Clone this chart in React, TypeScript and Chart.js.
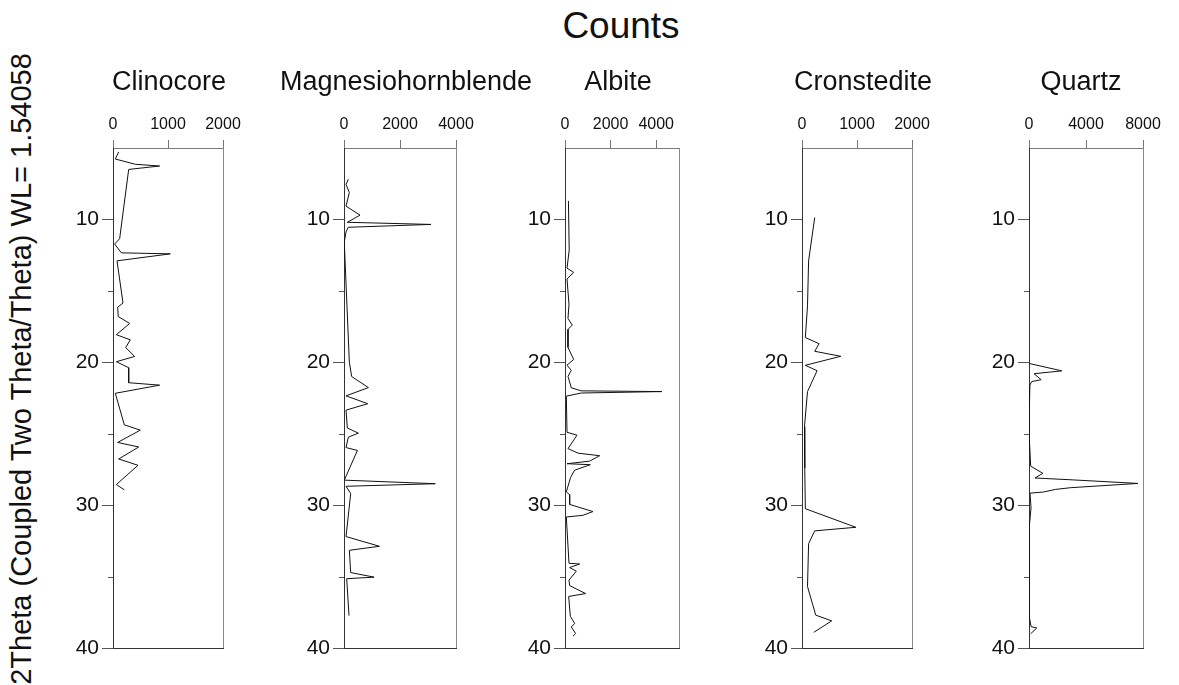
import React, { useEffect, useRef } from 'react';
import { Chart, registerables } from 'chart.js';

Chart.register(...registerables);

const FONT = "'Liberation Sans', Arial, Helvetica, sans-serif";

// ---- data ----
const panelNames = ['Clinocore', 'Magnesiohornblende', 'Albite', 'Cronstedite', 'Quartz'];
const countMax = [2000, 4000, 5000, 2000, 8000];
const countTicks = [
  [0, 1000, 2000],
  [0, 2000, 4000],
  [0, 2000, 4000],
  [0, 1000, 2000],
  [0, 4000, 8000],
];
const thetaTicks = [10, 20, 30, 40];
const thetaMinorTicks = [15, 25, 35];
const thetaMin = 5;
const thetaMax = 40;

const clinocoreTheta = [5.28, 5.77, 6.14, 6.26, 6.5, 11.35, 11.72, 12.34, 12.41, 12.9, 15.85, 16.15, 16.8, 17.28, 18.07, 18.43, 18.97, 19.59, 19.96, 20.38, 21.43, 21.6, 22.17, 24.38, 24.75, 25.61, 25.93, 26.77, 27.21, 28.56, 28.93];
const clinocoreCounts = [103, 42, 406, 848, 285, 121, 30, 152, 1042, 73, 182, 85, 95, 303, 61, 315, 230, 394, 61, 285, 285, 848, 42, 206, 497, 85, 467, 103, 455, 61, 206];

const magnesioTheta = [7.18, 7.56, 8.11, 9.07, 9.7, 10.2, 10.35, 10.55, 10.88, 11.58, 20.0, 21.0, 21.77, 22.35, 22.9, 23.35, 24.6, 24.96, 25.24, 25.97, 26.17, 28.25, 28.5, 28.68, 29.19, 32.2, 32.88, 33.16, 34.72, 35.04, 35.15, 37.73];
const magnesioCounts = [155, 72, 191, 72, 573, 119, 3105, 150, 72, 10, 191, 275, 872, 72, 848, 72, 119, 513, 155, 72, 478, 12, 3260, 72, 239, 72, 1266, 191, 239, 1075, 96, 179];

const albiteTheta = [8.7, 12.15, 13.41, 13.71, 14.17, 15.93, 16.94, 17.4, 17.7, 18.96, 19.8, 20.2, 20.56, 20.98, 21.79, 22.0, 22.05, 22.15, 22.37, 24.9, 25.1, 26.04, 26.36, 26.54, 26.92, 27.1, 27.17, 27.55, 28.05, 29.07, 29.27, 29.95, 30.45, 30.71, 30.83, 34.07, 34.12, 34.37, 34.62, 35.25, 35.63, 36.19, 36.39, 37.78, 38.28, 38.53, 38.99, 39.17];
const albiteCounts = [150, 185, 88, 380, 88, 175, 131, 321, 131, 131, 380, 88, 277, 131, 277, 715, 4248, 715, 58, 88, 526, 131, 569, 1518, 1080, 88, 1109, 423, 248, 58, 204, 204, 1226, 788, 58, 175, 642, 204, 496, 175, 204, 905, 161, 234, 423, 277, 467, 350];

const cronstediteTheta = [9.87, 12.9, 16.05, 18.27, 18.7, 19.23, 19.58, 20.21, 20.59, 22.05, 24.5, 27.4, 30.25, 31.55, 31.8, 32.7, 35.7, 37.7, 38.1, 38.9];
const cronstediteCounts = [231, 120, 100, 61, 310, 231, 705, 61, 274, 100, 45, 50, 61, 980, 231, 120, 100, 250, 540, 215];

const quartzTheta = [20.08, 20.6, 20.8, 21.22, 21.35, 21.6, 23.4, 24.9, 27.27, 27.77, 28.1, 28.23, 28.48, 28.78, 28.9, 29.08, 29.16, 30.2, 31.7, 37.7, 38.5, 38.6, 39.0];
const quartzCounts = [0, 2300, 355, 852, 189, 60, 0, 0, 118, 970, 426, 3030, 7650, 2911, 1846, 1018, 71, 142, 0, 0, 142, 544, 118];

const seriesTheta = [clinocoreTheta, magnesioTheta, albiteTheta, cronstediteTheta, quartzTheta];
const seriesCounts = [clinocoreCounts, magnesioCounts, albiteCounts, cronstediteCounts, quartzCounts];

// ---- layout ----
const plotLeft = [113, 344, 565, 802, 1029];
const plotWidth = [110, 112, 114, 110, 114];
const titleShift = [1, 6, -4, 6, -5];
const canvasTop = 60;
const canvasHeight = 620;
const sideRoom = 90;
const axisTopHeight = 88;
const bottomPad = 32;
const titleY = 23;

const framePlugin = {
  id: 'frame',
  afterDraw(chart: any, _args: any, opts: any) {
    const { ctx, chartArea } = chart;
    const { left, right, top, bottom } = chartArea;
    const y = chart.scales.y;
    ctx.save();
    ctx.lineWidth = 1;
    ctx.strokeStyle = '#8a8a8a';
    ctx.beginPath();
    ctx.moveTo(Math.round(right) + 0.5, top);
    ctx.lineTo(Math.round(right) + 0.5, bottom + 1);
    ctx.stroke();
    ctx.strokeStyle = '#333';
    ctx.beginPath();
    ctx.moveTo(left, Math.round(bottom) + 0.5);
    ctx.lineTo(right + 1, Math.round(bottom) + 0.5);
    ctx.stroke();
    ctx.strokeStyle = '#555';
    for (const v of thetaMinorTicks) {
      const py = Math.round(y.getPixelForValue(v)) + 0.5;
      ctx.beginPath();
      ctx.moveTo(left - 5, py);
      ctx.lineTo(left, py);
      ctx.stroke();
    }
    // panel title
    ctx.fillStyle = '#111';
    ctx.font = `27px ${FONT}`;
    ctx.textAlign = 'center';
    ctx.textBaseline = 'middle';
    ctx.fillText(opts.text, (left + right) / 2 + (opts.shift || 0), titleY);
    ctx.restore();
  },
};

function Panel({ index }: { index: number }) {
  const ref = useRef<HTMLCanvasElement | null>(null);
  const w = plotWidth[index] + sideRoom * 2;
  useEffect(() => {
    if (!ref.current) return;
    const theta = seriesTheta[index];
    const counts = seriesCounts[index];
    const chart = new Chart(ref.current, {
      type: 'scatter',
      data: {
        datasets: [
          {
            data: theta.map((t, i) => ({ x: counts[i], y: t })),
            showLine: true,
            borderColor: '#111',
            borderWidth: 1,
            pointRadius: 0,
            pointHoverRadius: 0,
            fill: false,
            tension: 0,
          } as any,
        ],
      },
      options: {
        responsive: false,
        animation: false,
        events: [],
        layout: { padding: { left: 0, right: sideRoom, top: 0, bottom: bottomPad } },
        plugins: {
          legend: { display: false },
          tooltip: { enabled: false },
          title: { display: false },
          frame: { text: panelNames[index], shift: titleShift[index] },
        },
        scales: {
          x: {
            type: 'linear',
            position: 'top',
            min: 0,
            max: countMax[index],
            afterBuildTicks: (s: any) => {
              s.ticks = countTicks[index].map((v) => ({ value: v }));
            },
            afterFit: (s: any) => {
              s.height = axisTopHeight;
            },
            grid: { drawOnChartArea: false, drawTicks: true, tickLength: 8, tickColor: '#777', tickWidth: 1 },
            border: { display: true, color: '#7a7a7a', width: 1 },
            ticks: {
              font: { family: FONT, size: 16 },
              color: '#111',
              padding: 6,
              maxRotation: 0,
              autoSkip: false,
              callback: (v: any) => String(v),
            },
          },
          y: {
            type: 'linear',
            position: 'left',
            reverse: true,
            min: thetaMin,
            max: thetaMax,
            afterBuildTicks: (s: any) => {
              s.ticks = thetaTicks.map((v) => ({ value: v }));
            },
            afterFit: (s: any) => {
              s.width = sideRoom;
            },
            grid: { drawOnChartArea: false, drawTicks: true, tickLength: 11, tickColor: '#555', tickWidth: 1 },
            border: { display: true, color: '#333', width: 1 },
            ticks: {
              font: { family: FONT, size: 21 },
              color: '#111',
              padding: 3,
              autoSkip: false,
              callback: (v: any) => String(v),
            },
          },
        },
      } as any,
      plugins: [framePlugin],
    });
    return () => chart.destroy();
  }, [index]);
  return (
    <canvas
      ref={ref}
      width={w}
      height={canvasHeight}
      style={{
        position: 'absolute',
        left: plotLeft[index] - sideRoom,
        top: canvasTop,
        width: w,
        height: canvasHeight,
      }}
    />
  );
}

export default function App() {
  return (
    <div
      style={{
        position: 'absolute',
        left: 0,
        top: 0,
        width: 1179,
        height: 685,
        background: '#fff',
        overflow: 'hidden',
        fontFamily: FONT,
        color: '#111',
      }}
    >
      <div
        style={{
          position: 'absolute',
          left: 421,
          width: 400,
          top: 6,
          textAlign: 'center',
          fontSize: 37,
          lineHeight: '40px',
          whiteSpace: 'nowrap',
        }}
      >
        Counts
      </div>
      <div
        style={{
          position: 'absolute',
          left: 21 - 350,
          top: 369 - 20,
          width: 700,
          height: 40,
          lineHeight: '40px',
          fontSize: 29,
          textAlign: 'center',
          whiteSpace: 'nowrap',
          transform: 'rotate(-90deg)',
        }}
      >
        2Theta (Coupled Two Theta/Theta) WL= 1.54058
      </div>
      {panelNames.map((_, i) => (
        <Panel key={i} index={i} />
      ))}
    </div>
  );
}
